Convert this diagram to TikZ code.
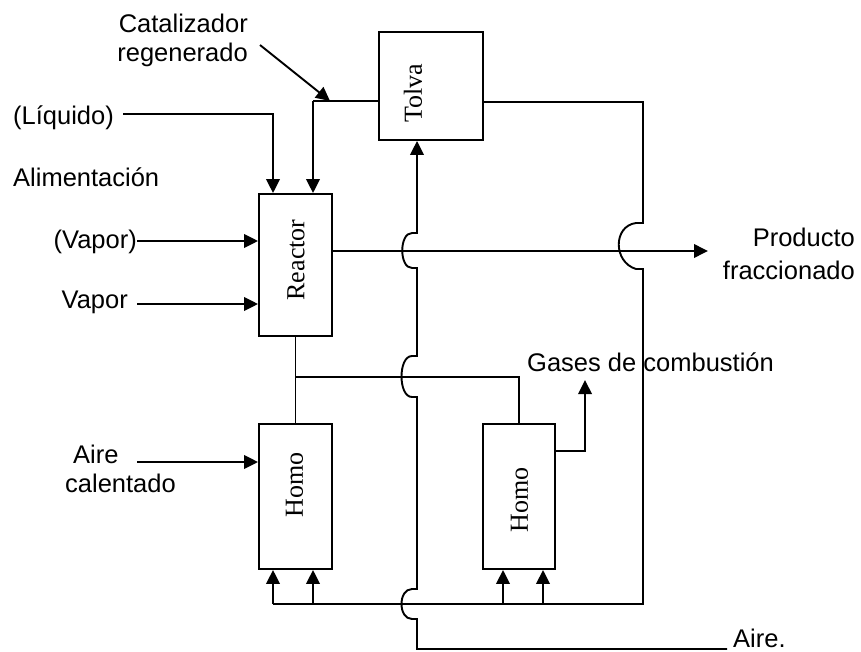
\documentclass[tikz,border=0pt]{standalone}
\usepackage{fontspec}
\setmainfont{Liberation Sans}
\newfontfamily\boxserif{Liberation Serif}
\usetikzlibrary{arrows.meta}
\tikzset{
  conn/.style={line width=1.9pt},
  arr/.style={conn,-{Triangle[length=14pt,width=13.5pt]}},
  unit/.style={draw,line width=1.9pt,inner sep=0pt,fill=white},
  lbl/.style={inner sep=0pt,font=\fontsize{25.5}{30}\selectfont},
  boxlbl/.style={inner sep=0pt,rotate=90,font=\boxserif\fontsize{26}{30}\selectfont}
}
\begin{document}
\begin{tikzpicture}[x=1pt,y=-1pt]
\useasboundingbox (0,0) rectangle (861,652);
% units
\node[unit,minimum width=104pt,minimum height=108pt] (tolva) at (431,86) {};
\node[unit,minimum width=73pt,minimum height=142pt] (reactor) at (295.5,265) {};
\node[unit,minimum width=73pt,minimum height=145pt] (homo1) at (295.5,496.5) {};
\node[unit,minimum width=72pt,minimum height=145pt] (homo2) at (519,496.5) {};
\node[boxlbl] (tolvat) at (413,93) {Tolva};
\node[boxlbl] (reactort) at (296,260) {Reactor};
\node[boxlbl] (homo1t) at (294.5,485) {Homo};
\node[boxlbl] (homo2t) at (519.5,500) {Homo};
% labels
\node[lbl,anchor=base east] (cat1) at (248,33) {Catalizador};
\node[lbl,anchor=base east] (cat2) at (248,62) {regenerado};
\node[lbl,anchor=base west] (liqt) at (13,125) {(Líquido)};
\node[lbl,anchor=base west] (alim) at (13,187) {Alimentación};
\node[lbl,anchor=base east] (vap1) at (137,248) {(Vapor)};
\node[lbl,anchor=base east] (vap2) at (128,308) {Vapor};
\node[lbl,anchor=base west] (aire1) at (73,463) {Aire};
\node[lbl,anchor=base west] (aire2) at (65,492) {calentado};
\node[lbl,anchor=base east] (prod1) at (855,247) {Producto};
\node[lbl,anchor=base east] (prod2) at (855,279) {fraccionado};
\node[lbl,anchor=base west] (gases) at (527,371) {Gases de combustión};
\node[lbl,anchor=base west] (airet) at (733,647) {Aire.};
% coordinates
\coordinate (liq) at (123,114);
\coordinate (liqc) at (273,114);
\coordinate (catc) at (313,101);
\coordinate (catstart) at (260,45);
\coordinate (cattip) at (330,101);
\coordinate (tr) at (643,102);
\coordinate (br) at (643,604);
\coordinate (bl) at (273,604);
\coordinate (b2) at (313,604);
\coordinate (b3) at (503,604);
\coordinate (b4) at (543,604);
\coordinate (airec) at (727,649);
\coordinate (ab) at (417,649);
\coordinate (outc) at (708,251);
\coordinate (v1) at (137,241);
\coordinate (v2) at (137,304);
\coordinate (ac) at (137,462);
\coordinate (hj) at (295.5,377);
\coordinate (g1) at (585,451);
\coordinate (g2) at (585,380);
% feed liquid
\draw[arr] (liq) -- (liqc) -- (liqc |- reactor.north);
% regenerated catalyst
\draw[conn] (tolva.west |- catc) -- (catc);
\draw[arr] (catc) -- (catc |- reactor.north);
\draw[arr] (catstart) -- (cattip);
% vapour feeds
\draw[arr] (v1) -- (v1 -| reactor.west);
\draw[arr] (v2) -- (v2 -| reactor.west);
\draw[arr] (ac) -- (ac -| homo1.west);
% product
\draw[arr] (reactor.east |- outc) -- (outc);
% reactor to furnaces
\draw[conn] (reactor.south) -- (homo1.north);
\draw[conn] (hj) -- (hj -| homo2.north) -- (homo2.north);
% flue gas
\draw[arr] (homo2.east |- g1) -- (g1) -- (g2);
% tolva return loop
\draw[conn] (tolva.east |- tr) -- (tr) -- (643,223) -- (636,223)
  .. controls (613,226) and (613,262) .. (636,269) -- (643,269) -- (br) -- (bl);
\draw[arr] (bl) -- (bl |- homo1.south);
\draw[arr] (b2) -- (b2 |- homo1.south);
\draw[arr] (b3) -- (b3 |- homo2.south);
\draw[arr] (b4) -- (b4 |- homo2.south);
% air riser
\draw[arr] (airec) -- (ab) -- (417,619) -- (412,619)
  .. controls (398,619) and (398,589) .. (412,589) -- (417,589) -- (417,397) -- (412,397)
  .. controls (398,397) and (398,356) .. (412,356) -- (417,356) -- (417,268) -- (412,268)
  .. controls (399,268) and (399,233) .. (412,233) -- (417,233) -- (ab |- tolva.south);
\end{tikzpicture}
\end{document}
